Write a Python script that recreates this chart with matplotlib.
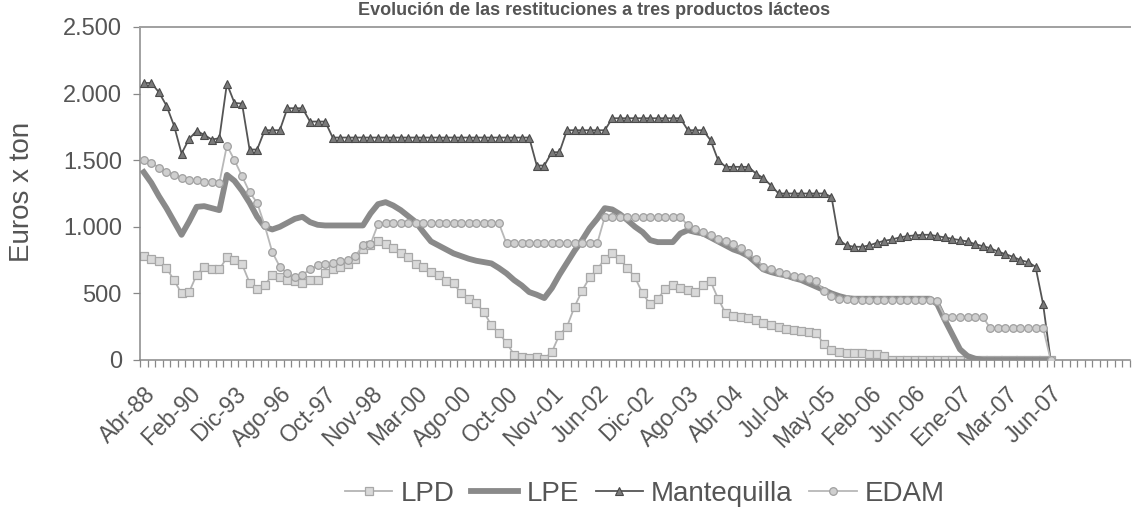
import numpy as np
import matplotlib
matplotlib.use("Agg")
import matplotlib.pyplot as plt

plt.rcParams['font.family'] = ['Liberation Sans', 'DejaVu Sans']

title = "Evolución de las restituciones a tres productos lácteos"
y_label = "Euros x ton"
series_names = ["LPD", "LPE", "Mantequilla", "EDAM"]

# category labels shown on the axis (every 6th category)
x_labels = ["Abr-88", "Feb-90", "Dic-93", "Ago-96", "Oct-97", "Nov-98", "Mar-00",
            "Ago-00", "Oct-00", "Nov-01", "Jun-02", "Dic-02", "Ago-03", "Abr-04",
            "Jul-04", "May-05", "Feb-06", "Jun-06", "Ene-07", "Mar-07", "Jun-07"]
label_step = 6
n_categories = 131

y_ticks = [0, 500, 1000, 1500, 2000, 2500]
y_tick_labels = ["0", "500", "1.000", "1.500", "2.000", "2.500"]

lpd = [780, 760, 740, 690, 600, 500, 510, 640, 700, 680, 680, 770, 750, 720, 580, 530,
       560, 640, 620, 600, 590, 580, 600, 600, 650, 680, 700, 720, 760, 830, 860, 890,
       870, 840, 800, 770, 720, 700, 660, 640, 590, 575, 500, 460, 425, 360, 260, 200,
       130, 40, 20, 15, 25, 10, 60, 190, 250, 400, 520, 620, 680, 760, 800, 760, 690,
       620, 500, 420, 460, 530, 560, 540, 525, 510, 560, 590, 460, 350, 330, 325, 315,
       300, 280, 260, 250, 235, 225, 220, 210, 200, 120, 75, 60, 55, 50, 50, 45, 45, 30,
       0, 0, 0, 0, 0, 0, 0, 0, 0, 0, 0, 0, 0, 0, 0, 0, 0, 0, 0, 0, 0, 0]

lpe = [1410, 1330, 1230, 1140, 1040, 940, 1040, 1150, 1155, 1140, 1125, 1390, 1345, 1270,
       1180, 1075, 1000, 980, 1000, 1030, 1060, 1075, 1035, 1015, 1010, 1010, 1010, 1010,
       1010, 1010, 1100, 1170, 1185, 1160, 1125, 1080, 1035, 960, 890, 860, 830, 800, 780,
       760, 745, 735, 725, 690, 650, 600, 560, 510, 490, 465, 540, 640, 730, 820, 900, 990,
       1060, 1140, 1130, 1095, 1050, 1000, 960, 900, 885, 885, 885, 950, 975, 960, 950, 920,
       890, 860, 830, 810, 780, 730, 680, 660, 645, 635, 615, 600, 575, 550, 525, 500, 480,
       465, 460, 460, 460, 460, 460, 460, 460, 460, 460, 460, 460, 420, 300, 190, 80, 30,
       10, 0, 0, 0, 0, 0, 0, 0, 0, 0, 0]

mantequilla = [2080, 2080, 2010, 1910, 1760, 1550, 1660, 1720, 1690, 1655, 1665, 2075, 1930,
               1925, 1580, 1580, 1725, 1725, 1725, 1890, 1890, 1890, 1790, 1790, 1790,
               1670, 1670, 1670, 1670, 1670, 1670, 1670, 1670, 1670, 1670, 1670, 1670, 1670,
               1670, 1670, 1670, 1670, 1670, 1670, 1670, 1670, 1670, 1670, 1670, 1670, 1670,
               1670, 1460, 1460, 1560, 1560, 1725, 1725, 1725, 1725, 1725, 1725,
               1815, 1815, 1815, 1815, 1815, 1815, 1815, 1815, 1815, 1815,
               1725, 1725, 1725, 1650, 1500, 1450, 1450, 1450, 1450, 1400, 1365, 1310,
               1250, 1250, 1250, 1250, 1250, 1250, 1250, 1225, 900, 860, 850, 850, 860, 880,
               895, 905, 920, 930, 935, 940, 940, 930, 920, 910, 900, 890, 870, 855, 840, 815,
               795, 775, 750, 735, 700, 420, 0]

edam = [1500, 1480, 1445, 1415, 1390, 1365, 1355, 1350, 1340, 1335, 1330, 1610, 1500, 1380,
        1260, 1180, 1010, 810, 700, 650, 620, 640, 680, 710, 720, 730, 740, 750, 780, 860,
        870, 1020, 1025, 1025, 1025, 1025, 1025, 1025, 1025, 1025, 1025, 1025, 1025, 1025,
        1025, 1025, 1025, 1025, 875, 875, 875, 875, 875, 875, 875, 875, 875, 875, 875, 875,
        875, 1075, 1075, 1075, 1075, 1075, 1075, 1075, 1075, 1075, 1075, 1075, 1010, 980,
        960, 940, 910, 890, 870, 840, 800, 760, 700, 680, 660, 645, 630, 620, 610, 590, 520,
        480, 460, 455, 450, 450, 450, 450, 450, 450, 450, 450, 450, 450, 450, 440, 325, 325,
        325, 325, 325, 325, 240, 240, 240, 240, 240, 240, 240, 240, 0]

W, H = 1134, 508
fig = plt.figure(figsize=(W / 100, H / 100), dpi=100)
ax = fig.add_axes([140 / W, 1 - 360 / H, 990 / W, 333 / H])

x = np.arange(len(lpd))
ax.plot(x, lpd, color='#b4b4b4', lw=1.3, marker='s', ms=5.5, mfc='#d9d9d9', mec='#a8a8a8',
        mew=0.9, label=series_names[0], zorder=2)
ax.plot(x, lpe, color='#8a8a8a', lw=4.2, label=series_names[1], zorder=3)
ax.plot(x, mantequilla, color='#555555', lw=1.3, marker='^', ms=6, mfc='#7a7a7a',
        mec='#4a4a4a', mew=0.8, label=series_names[2], zorder=4)
ax.plot(x, edam, color='#b8b8b8', lw=1.3, marker='o', ms=5.5, mfc='#cfcfcf', mec='#a0a0a0',
        mew=0.9, label=series_names[3], zorder=5)

ax.set_xlim(-0.5, n_categories - 0.5)
ax.set_ylim(0, 2500)

ax.set_xticks(np.arange(len(x_labels)) * label_step)
ax.set_xticklabels(x_labels, rotation=45, ha='right', va='top', rotation_mode='anchor',
                   fontsize=16.5, color='#555555')
ax.tick_params(axis='x', which='major', length=0, pad=16)
ax.set_xticks(np.arange(-0.5, n_categories, 1), minor=True)
ax.tick_params(axis='x', which='minor', length=5, width=0.9, color='#888888', direction='out')

ax.set_yticks(y_ticks)
ax.set_yticklabels(y_tick_labels, fontsize=17, color='#555555')
ax.tick_params(axis='y', length=5, width=0.9, color='#888888', pad=8)

for side in ['left', 'bottom']:
    ax.spines[side].set_color('#888888')
    ax.spines[side].set_linewidth(1.1)
ax.spines['right'].set_visible(False)
ax.spines['top'].set_color('#a0a0a0')
ax.spines['top'].set_linewidth(1.4)

fig.text(22 / W, 1 - 192 / H, y_label, rotation=90, ha='center', va='center',
         fontsize=20, color='#555555')
fig.text(830 / W, 1 - 2 / H, title, ha='right', va='top', fontsize=13, fontweight='bold',
         color='#555555')

leg = fig.legend(loc='center', bbox_to_anchor=(645 / W, 1 - 494 / H), ncol=4, frameon=False,
                 fontsize=20, handlelength=1.7, handletextpad=0.3, columnspacing=0.6,
                 borderaxespad=0)
for t in leg.get_texts():
    t.set_color('#555555')

fig.savefig("out.png", dpi=100)
